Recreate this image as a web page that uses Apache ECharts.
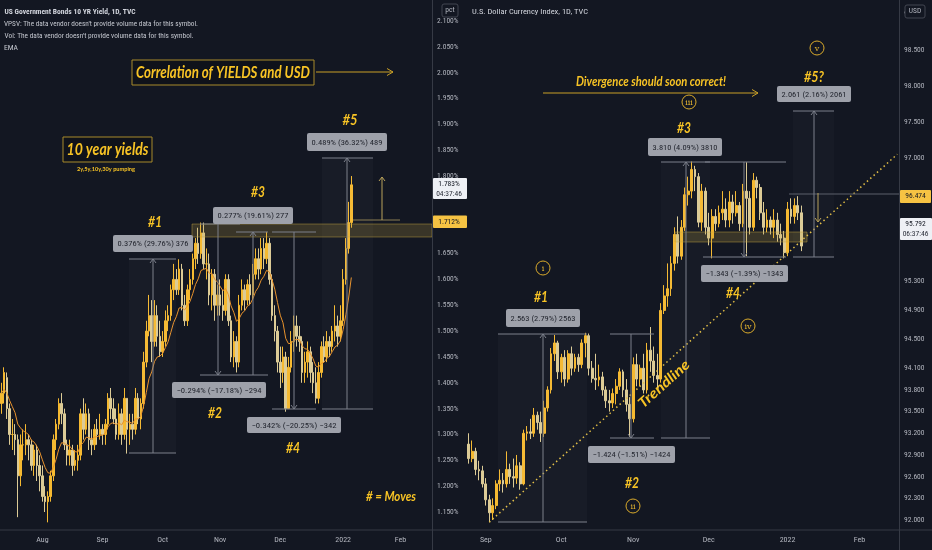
<!DOCTYPE html>
<html><head><meta charset="utf-8">
<script src="https://cdn.jsdelivr.net/npm/echarts@6/dist/echarts.min.js"></script>
<style>html,body{margin:0;padding:0;background:#131722;}#c{width:932px;height:550px;}</style>
</head><body><div id="c"></div><script>
// ---------- DATA ----------
const yieldStart = '2021-07-12';   // first weekday shown on the yields pane
const yieldSlots = 158;            // weekday slots on the yields pane (incl. future space)
const dxyStart = '2021-08-25';
const dxySlots = 126;
// [open, close, low, high]  US10Y (%)
const yieldOHLC = [
[1.36,1.38,1.34,1.40],[1.38,1.42,1.36,1.43],[1.41,1.35,1.33,1.42],[1.35,1.30,1.28,1.36],[1.30,1.30,1.27,1.33],
[1.30,1.29,1.26,1.32],[1.29,1.22,1.14,1.30],[1.22,1.28,1.20,1.30],[1.28,1.28,1.25,1.31],[1.28,1.29,1.26,1.32],
[1.29,1.28,1.25,1.30],[1.28,1.24,1.23,1.29],[1.24,1.27,1.22,1.28],[1.27,1.24,1.21,1.28],[1.24,1.22,1.19,1.26],
[1.22,1.18,1.17,1.24],[1.18,1.17,1.15,1.20],[1.17,1.18,1.13,1.19],[1.18,1.22,1.17,1.23],[1.22,1.29,1.21,1.30],
[1.29,1.32,1.27,1.33],[1.32,1.36,1.31,1.37],[1.36,1.34,1.32,1.38],[1.34,1.28,1.27,1.35],[1.28,1.26,1.24,1.29],
[1.26,1.27,1.24,1.29],[1.27,1.24,1.22,1.28],[1.24,1.25,1.23,1.27],[1.25,1.26,1.23,1.28],[1.26,1.34,1.25,1.35],
[1.34,1.31,1.29,1.37],[1.31,1.34,1.30,1.36],[1.34,1.29,1.27,1.35],[1.29,1.28,1.26,1.31],[1.28,1.31,1.27,1.32],
[1.31,1.30,1.28,1.33],[1.30,1.31,1.29,1.34],[1.31,1.30,1.28,1.32],[1.30,1.32,1.28,1.33],[1.32,1.37,1.31,1.38],
[1.37,1.35,1.33,1.39],[1.35,1.33,1.32,1.37],[1.33,1.30,1.29,1.35],[1.30,1.34,1.29,1.36],[1.34,1.30,1.28,1.35],
[1.30,1.37,1.29,1.39],[1.37,1.31,1.263,1.37],[1.31,1.32,1.28,1.34],[1.32,1.31,1.29,1.34],[1.31,1.37,1.30,1.39],
[1.37,1.33,1.32,1.38],[1.33,1.36,1.31,1.37],[1.36,1.44,1.35,1.46],[1.44,1.50,1.43,1.52],[1.50,1.53,1.49,1.57],
[1.53,1.48,1.44,1.56],[1.48,1.53,1.47,1.56],[1.53,1.49,1.47,1.55],[1.49,1.46,1.45,1.52],[1.46,1.48,1.45,1.50],
[1.48,1.52,1.47,1.54],[1.52,1.53,1.50,1.55],[1.53,1.58,1.52,1.59],[1.58,1.60,1.56,1.63],[1.60,1.58,1.57,1.62],
[1.58,1.62,1.57,1.639],[1.62,1.55,1.54,1.63],[1.55,1.52,1.51,1.57],[1.52,1.58,1.51,1.59],[1.58,1.60,1.56,1.62],
[1.60,1.64,1.59,1.65],[1.64,1.67,1.62,1.68],[1.67,1.65,1.63,1.70],[1.65,1.69,1.64,1.71],[1.69,1.63,1.62,1.71],
[1.63,1.63,1.60,1.66],[1.63,1.57,1.55,1.65],[1.57,1.61,1.54,1.62],[1.61,1.55,1.52,1.62],[1.55,1.57,1.53,1.59],
[1.57,1.55,1.53,1.60],[1.55,1.54,1.52,1.58],[1.54,1.60,1.53,1.61],[1.60,1.52,1.51,1.61],[1.52,1.45,1.44,1.53],
[1.45,1.48,1.43,1.50],[1.48,1.44,1.42,1.49],[1.44,1.55,1.43,1.57],[1.55,1.58,1.54,1.60],[1.58,1.56,1.54,1.59],
[1.56,1.59,1.55,1.60],[1.59,1.57,1.55,1.61],[1.57,1.61,1.56,1.63],[1.61,1.64,1.60,1.66],[1.64,1.62,1.60,1.66],
[1.62,1.66,1.61,1.68],[1.66,1.64,1.62,1.68],[1.64,1.67,1.63,1.692],[1.67,1.60,1.59,1.68],[1.60,1.53,1.52,1.61],
[1.53,1.50,1.48,1.55],[1.50,1.44,1.42,1.51],[1.44,1.42,1.39,1.47],[1.42,1.45,1.40,1.47],[1.45,1.35,1.344,1.46],
[1.35,1.43,1.35,1.45],[1.43,1.48,1.42,1.50],[1.48,1.51,1.46,1.53],[1.51,1.49,1.47,1.53],[1.49,1.48,1.46,1.51],
[1.48,1.42,1.40,1.49],[1.42,1.44,1.40,1.46],[1.44,1.46,1.41,1.48],[1.46,1.42,1.40,1.47],[1.42,1.40,1.38,1.44],
[1.40,1.37,1.36,1.43],[1.37,1.42,1.36,1.44],[1.42,1.47,1.41,1.48],[1.47,1.45,1.44,1.49],[1.45,1.48,1.44,1.50],
[1.48,1.47,1.45,1.49],[1.47,1.50,1.46,1.51],[1.50,1.51,1.48,1.55],[1.51,1.49,1.47,1.53],[1.49,1.52,1.48,1.55],
[1.52,1.60,1.51,1.62],[1.60,1.66,1.59,1.68],[1.66,1.71,1.65,1.75],[1.71,1.783,1.70,1.80]
];
// [open, close, low, high]  DXY
const dxyOHLC = [
[93.05,92.85,92.78,93.20],[92.85,92.95,92.80,93.10],[92.95,92.70,92.62,93.00],[92.70,92.68,92.55,92.82],[92.68,92.50,92.45,92.75],
[92.50,92.28,92.20,92.58],[92.28,92.10,91.97,92.35],[92.10,92.20,92.00,92.30],[92.20,92.50,92.15,92.55],[92.50,92.55,92.40,92.70],
[92.55,92.50,92.38,92.65],[92.50,92.70,92.45,92.95],[92.70,92.60,92.50,92.78],[92.60,92.58,92.45,92.85],[92.58,92.75,92.50,92.90],
[92.75,92.50,92.42,92.80],[92.50,93.20,92.48,93.25],[93.20,93.22,93.10,93.30],[93.22,93.20,93.12,93.40],[93.20,93.45,93.15,93.55],
[93.45,93.35,93.25,93.50],[93.35,93.20,93.08,93.50],[93.20,93.55,93.15,93.65],[93.55,93.80,93.50,93.85],[93.80,94.30,93.75,94.38],
[94.30,94.45,94.20,94.56],[94.45,94.05,93.95,94.48],[94.05,94.25,93.90,94.30],[94.25,93.95,93.85,94.35],[93.95,94.30,93.90,94.35],
[94.30,94.10,94.00,94.40],[94.10,94.25,94.05,94.30],[94.25,94.15,94.05,94.30],[94.15,94.45,94.10,94.50],[94.45,94.55,94.25,94.59],
[94.55,94.10,94.00,94.58],[94.10,93.96,93.90,94.20],[93.96,93.94,93.80,94.30],[93.94,93.98,93.85,94.15],[93.98,93.80,93.72,94.05],
[93.80,93.65,93.55,93.85],[93.65,93.62,93.50,93.80],[93.62,93.75,93.55,93.82],[93.75,93.85,93.60,93.95],[93.85,94.05,93.80,94.10],
[94.05,93.80,93.70,94.08],[93.80,93.60,93.50,93.95],[93.60,93.40,93.15,93.70],[93.40,94.15,93.35,94.25],[94.15,93.95,93.85,94.30],
[93.95,94.10,93.85,94.15],[94.10,93.80,93.75,94.30],[93.80,94.35,93.75,94.45],[94.35,94.20,94.05,94.67],[94.20,94.00,93.90,94.40],
[94.00,93.95,93.80,94.30],[93.95,94.90,93.90,95.00],[94.90,95.10,94.85,95.25],[95.10,95.20,94.95,95.55],[95.20,95.55,95.10,95.65],
[95.55,95.95,95.45,96.05],[95.95,95.65,95.55,96.20],[95.65,96.05,95.60,96.15],[96.05,96.50,96.00,96.60],[96.50,96.55,96.35,96.75],
[96.55,96.85,96.45,96.96],[96.85,96.75,96.55,96.90],[96.75,96.12,96.05,96.80],[96.12,96.55,96.00,96.65],[96.55,96.05,95.95,96.60],
[96.05,95.90,95.80,96.25],[95.90,96.20,95.62,96.30],[96.20,96.10,96.00,96.30],[96.10,96.25,96.05,96.35],[96.25,96.30,96.15,96.55],
[96.30,96.15,96.05,96.45],[96.15,96.40,96.05,96.55],[96.40,96.25,96.10,96.50],[96.25,96.35,96.20,96.55],[96.35,96.10,96.00,96.40],
[96.10,96.55,96.05,96.65],[96.55,96.45,95.65,96.95],[96.45,96.05,95.95,96.55],[96.05,96.70,96.00,96.80],[96.70,96.60,96.45,96.75],
[96.60,96.25,96.15,96.65],[96.25,96.05,95.95,96.40],[96.05,96.15,95.98,96.30],[96.15,96.05,95.95,96.20],[96.05,96.15,95.90,96.30],
[96.15,95.95,95.85,96.25],[95.95,95.90,95.80,96.10],[95.90,95.70,95.62,96.00],[95.70,96.30,95.65,96.40],[96.30,96.20,96.10,96.45],
[96.20,96.35,96.10,96.45],[96.35,96.25,96.15,96.48],[96.25,95.79,95.72,96.35]
];
const yieldTicks = [1.15,1.2,1.25,1.3,1.35,1.4,1.45,1.5,1.55,1.6,1.65,1.8,1.85,1.9,1.95,2.0,2.05,2.1];
const dxyTicks = [92.0,92.3,92.6,92.9,93.2,93.5,93.8,94.1,94.5,94.9,95.3,96.1,97.0,97.5,98.0,98.5,99.0];
const monthNames = ['Jan','Feb','Mar','Apr','May','Jun','Jul','Aug','Sep','Oct','Nov','Dec'];
const emaPeriod = 10;

// ---------- helpers ----------
function weekdays(start, n){
  const out=[]; const d=new Date(start+'T00:00:00Z');
  while(out.length<n){ const w=d.getUTCDay(); if(w!==0&&w!==6) out.push(d.toISOString().slice(0,10)); d.setUTCDate(d.getUTCDate()+1); }
  return out;
}
const yCats = weekdays(yieldStart, yieldSlots);
const dCats = weekdays(dxyStart, dxySlots);
function monthStart(cats){ return (idx)=> idx>0 && cats[idx].slice(5,7)!==cats[idx-1].slice(5,7); }
function monthLabel(v){ const m=+v.slice(5,7); return m===1 ? v.slice(0,4) : monthNames[m-1]; }
const closes = yieldOHLC.map(r=>r[1]);
const ema=[]; const a=2/(emaPeriod+1);
closes.forEach((c,i)=>{ ema.push(i===0?c:+(a*c+(1-a)*ema[i-1]).toFixed(4)); });

const NARROW = "'Liberation Sans Narrow','Roboto Condensed','Liberation Sans',sans-serif";
const BOLD = "Lato,'Open Sans',sans-serif";
const YEL = '#f7c325';
const GRAYLINE = '#7c808b';
const mctx = document.createElement('canvas').getContext('2d');
const g = [];
function fit(x,y,text,{size=12,family=BOLD,style='italic',weight='bold',w=null,color=YEL,rot=0,z=60}={}){
  let sx=1;
  if(w){ mctx.font=`${style} ${weight} ${size}px ${family}`; const m=mctx.measureText(text).width; if(m>0) sx=w/m; }
  g.push({type:'text',x,y,scaleX:sx,rotation:rot,z,silent:true,
    style:{text,fontSize:size,fontFamily:family,fontStyle:style,fontWeight:weight,fill:color,align:'center',verticalAlign:'middle'}});
}
function line(x1,y1,x2,y2,color=GRAYLINE,w=1,dash=null){
  g.push({type:'line',z:40,silent:true,shape:{x1,y1,x2,y2},style:{stroke:color,lineWidth:w,lineDash:dash}});
}
function head(x,y,dir,color=GRAYLINE){
  let pts;
  if(dir==='up') pts=[[x-3,y+4],[x,y],[x+3,y+4]];
  else if(dir==='down') pts=[[x-3,y-4],[x,y],[x+3,y-4]];
  else pts=[[x-6,y-3.5],[x,y],[x-6,y+3.5]];
  g.push({type:'polyline',z:41,silent:true,shape:{points:pts},style:{stroke:color,lineWidth:1,fill:null}});
}
function rect(x1,y1,x2,y2,fill,stroke=null,z=30,r=0){
  g.push({type:'rect',z,silent:true,shape:{x:x1,y:y1,width:x2-x1,height:y2-y1,r},style:{fill,stroke,lineWidth:1}});
}
function box(x1,y1,x2,y2,text){
  rect(x1,y1,x2,y2,'#9ea1aa',null,55,2);
  fit((x1+x2)/2,(y1+y2)/2+0.5,text,{size:8,family:NARROW,style:'normal',weight:'normal',w:(x2-x1)-9,color:'#23262f',z:56});
}
function circ(x,y,t){
  g.push({type:'circle',z:60,silent:true,shape:{cx:x,cy:y,r:7},style:{stroke:'#d9aa2b',lineWidth:1,fill:null}});
  fit(x,y+0.5,t,{size:8,family:"'DejaVu Serif',serif",style:'normal',weight:'normal',color:'#e8b830'});
}
function measure(xa,xb,yFrom,yTo,xv){
  line(xa,yFrom,xb,yFrom); line(xa,yTo,xb,yTo); line(xv,yFrom,xv,yTo);
  head(xv,yTo,yTo<yFrom?'up':'down');
}

// frame lines
line(0,530,932,530,'#363a45');
line(432.5,0,432.5,550,'#363a45');
line(899.5,0,899.5,550,'#363a45');

// ----- left pane annotations -----
fit(70,12,'US Government Bonds 10 YR Yield, 1D, TVC',{size:8,family:NARROW,style:'normal',weight:'bold',w:131,color:'#d1d4dc'});
fit(101,24,"VPSV: The data vendor doesn't provide volume data for this symbol.",{size:8,family:NARROW,style:'normal',weight:'normal',w:194,color:'#c3c6ce'});
fit(99,36,"Vol: The data vendor doesn't provide volume data for this symbol.",{size:8,family:NARROW,style:'normal',weight:'normal',w:189,color:'#c3c6ce'});
fit(11,48,'EMA',{size:8,family:NARROW,style:'normal',weight:'normal',w:14,color:'#c3c6ce'});

rect(132,60,314,85,'rgba(10,10,12,0.35)','#a88a2a',50);
fit(223,72.5,'Correlation of YIELDS and USD',{size:17,w:174});
line(316,72,393,72,'#c9a027',1.2); head(393,72,'right','#c9a027');
rect(63,137,152,162,'rgba(10,10,12,0.35)','#a88a2a',50);
fit(107.5,149.5,'10 year yields',{size:17,w:82});
fit(106,169,'2y,5y,10y,30y pumping',{size:6,w:58,style:'normal'});

rect(192,224,432,237,'rgba(196,165,62,0.22)','rgba(196,165,62,0.45)',20);
rect(129,259,176,453,'rgba(255,255,255,0.025)',null,19);
rect(322,158,373,409,'rgba(255,255,255,0.025)',null,19);

measure(129,176,453,259,153);
line(200,224,240,224); line(200,375,268,375); line(218,224,218,375); head(218,375,'down');
line(236,232,268,232); line(253,375,253,232); head(253,232,'up');
measure(272,316,232,409,294);
measure(322,373,409,158,347);
line(353,220,400,220,'#8c7f52'); line(382,220,382,177,'#b9a25a'); head(382,177,'up','#b9a25a');

box(113,235,193,252,'0.376% (29.76%) 376');
box(213,207,293,224,'0.277% (19.61%) 277');
box(307,133,387,151,'0.489% (36.32%) 489');
box(172,382,266,398,'\u22120.294% (\u221217.18%) \u2212294');
box(247,417,341,433,'\u22120.342% (\u221220.25%) \u2212342');

fit(155,222,'#1',{size:16,w:14});
fit(258,192,'#3',{size:16,w:14});
fit(350,120,'#5',{size:16,w:15});
fit(215,413,'#2',{size:16,w:14});
fit(293,448,'#4',{size:16,w:14});
fit(391,497,'# = Moves',{size:13,w:50});

// left axis badges / price labels
rect(442,4,458,17,'#131722','#434651',70,2);
fit(450,10.5,'pct',{size:7.5,family:NARROW,style:'normal',weight:'normal',color:'#b2b5be',z:71});
rect(433,178,467,199,'#eef0f5',null,70,1);
fit(449,184,'1.783%',{size:7.5,family:NARROW,style:'normal',weight:'normal',color:'#131722',z:71});
fit(449,194,'04:37:46',{size:7.5,family:NARROW,style:'normal',weight:'normal',color:'#2a2e39',z:71});
rect(433,215.5,467,228,'#f6c343',null,70,1);
fit(449,222,'1.712%',{size:7.5,family:NARROW,style:'normal',weight:'normal',color:'#131722',z:71});

// ----- right pane annotations -----
fit(530,12,'U.S. Dollar Currency Index, 1D, TVC',{size:8,family:NARROW,style:'normal',weight:'normal',w:116,color:'#d1d4dc'});
fit(651,82,'Divergence should soon correct!',{size:13,w:150});
line(543,93,758,93,'#c9a027',1.2); head(758,93,'right','#c9a027');

rect(675,232,807,242,'rgba(196,165,62,0.22)','rgba(196,165,62,0.45)',20);
rect(498,334,587,522,'rgba(255,255,255,0.025)',null,19);
rect(661,162,710,438,'rgba(255,255,255,0.02)',null,19);
rect(793,111,834,257,'rgba(255,255,255,0.02)',null,19);
line(789,194,899,194,'#5d606b');
line(818,193,818,222,'#b9a25a'); head(818,222,'down','#b9a25a');

measure(498,587,522,334,543);
measure(610,654,334,438,631);
measure(661,710,438,162,686);
line(705,162,786,162); line(703,257,786,257); line(744,162,744,257); head(744,257,'down');
measure(793,834,257,111,814);

box(506,309,580,327,'2.563 (2.79%) 2563');
box(588,446,675,463,'\u22121.424 (\u22121.51%) \u22121424');
box(648,138,722,156,'3.810 (4.09%) 3810');
box(701,265,788,282,'\u22121.343 (\u22121.39%) \u22121343');
box(777,86,851,102,'2.061 (2.16%) 2061');

fit(541,297,'#1',{size:16,w:14});
fit(632,483,'#2',{size:16,w:14});
fit(684,128,'#3',{size:16,w:14});
fit(733,293,'#4',{size:16,w:14});
fit(814,77,'#5?',{size:16,w:20});
fit(664,384,'Trendline',{size:14,w:64,rot:0.733});
circ(543,268,'i'); circ(633,506,'ii'); circ(689,102,'iii'); circ(748,326,'iv'); circ(817,48,'v');

rect(905,5,925,18,'#131722','#434651',70,2);
fit(915,11.5,'USD',{size:7.5,family:NARROW,style:'normal',weight:'normal',color:'#b2b5be',z:71});
rect(900,190,931,203,'#f6c343',null,70,1);
fit(915.5,196.5,'96.474',{size:7.5,family:NARROW,style:'normal',weight:'normal',color:'#131722',z:71});
rect(900,218,932,240,'#eef0f5',null,70,1);
fit(915.5,224,'95.792',{size:7.5,family:NARROW,style:'normal',weight:'normal',color:'#131722',z:71});
fit(915.5,234,'06:37:46',{size:7.5,family:NARROW,style:'normal',weight:'normal',color:'#2a2e39',z:71});

// ---------- chart ----------
const axisLab = {color:'#b2b5be',fontSize:7.5,fontFamily:NARROW};
const UP='#f5b931', DOWN='#dccb96';
const option = {
  backgroundColor:'#131722',
  animation:false,
  grid:[{left:0,top:0,width:432,height:530},{left:467,top:0,width:432,height:530}],
  xAxis:[
    {type:'category',gridIndex:0,data:yCats,boundaryGap:true,axisLine:{show:false},axisTick:{show:false},
     axisLabel:Object.assign({interval:monthStart(yCats),formatter:monthLabel,margin:6,fontSize:8},{color:'#b2b5be',fontFamily:NARROW}),splitLine:{show:false}},
    {type:'category',gridIndex:1,data:dCats,boundaryGap:true,axisLine:{show:false},axisTick:{show:false},
     axisLabel:Object.assign({interval:monthStart(dCats),formatter:monthLabel,margin:6,fontSize:8},{color:'#b2b5be',fontFamily:NARROW}),splitLine:{show:false}}
  ],
  yAxis:[
    {type:'value',gridIndex:0,position:'right',min:1.1152,max:2.1406,scale:true,splitLine:{show:false},axisTick:{show:false},axisLine:{show:false},
     axisLabel:Object.assign({customValues:yieldTicks,formatter:v=>v.toFixed(3)+'%',margin:5},axisLab)},
    {type:'value',gridIndex:1,position:'right',min:91.862,max:99.194,scale:true,splitLine:{show:false},axisTick:{show:false},axisLine:{show:false},
     axisLabel:Object.assign({customValues:dxyTicks,formatter:v=>v.toFixed(3),margin:5},axisLab)}
  ],
  series:[
    {type:'candlestick',xAxisIndex:0,yAxisIndex:0,data:yieldOHLC,barWidth:2,
     itemStyle:{color:UP,color0:DOWN,borderColor:UP,borderColor0:DOWN,borderWidth:1}},
    {type:'line',xAxisIndex:0,yAxisIndex:0,data:ema,symbol:'none',lineStyle:{color:'#e8922c',width:1},z:3},
    {type:'candlestick',xAxisIndex:1,yAxisIndex:1,data:dxyOHLC,barWidth:2.4,
     itemStyle:{color:UP,color0:DOWN,borderColor:UP,borderColor0:DOWN,borderWidth:1},
     markLine:{silent:true,symbol:['none','none'],label:{show:false},
       lineStyle:{color:'#e3bf45',type:[1.5,3],width:1.5},
       data:[[{coord:[6,91.97]},{coord:[125,97.06]}]]}}
  ],
  graphic:g
};
const chart = echarts.init(document.getElementById('c'),null,{renderer:'canvas'});
chart.setOption(option);
</script></body></html>
